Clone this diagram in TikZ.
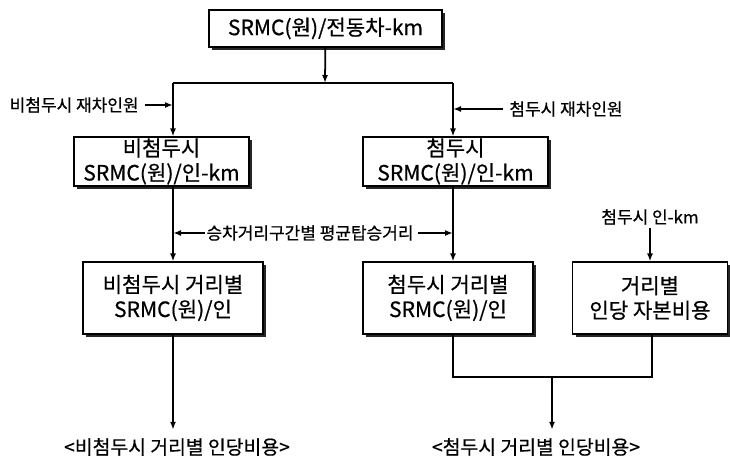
\documentclass[tikz,border=0pt]{standalone}
\usepackage{fontspec}
\setmainfont{Noto Sans CJK KR}[FakeBold=0.6]
\usetikzlibrary{arrows.meta, positioning, shadows}

\begin{document}
\begin{tikzpicture}[x=0.03cm, y=-0.03cm,
  box/.style={draw, line width=0.9pt, fill=white, align=center, inner sep=0pt,
    font=\fontsize{18}{21}\selectfont,
    drop shadow={shadow xshift=0.09cm, shadow yshift=-0.09cm, fill=black!85, opacity=1}},
  lbl/.style={font=\fontsize{14.5}{16}\selectfont, inner sep=1pt},
  res/.style={font=\fontsize{16.5}{18}\selectfont, inner sep=1pt},
  flow/.style={line width=1.5pt, -{Latex[length=0.24cm, width=0.18cm]}},
  link/.style={line width=1.2pt}]
  \useasboundingbox (0,0) rectangle (730,460);

  % top box
  \node[box, minimum width=6.99cm, minimum height=1.11cm] (top) at (325.5,28.5) {SRMC(원)/전동차-km};

  % split into off-peak / peak
  \coordinate (split) at (325,83);
  \coordinate (splitL) at (173,83);
  \coordinate (splitR) at (453,83);

  \node[lbl, anchor=east] (offin) at (140,105) {비첨두시 재차인원};
  \node[lbl, anchor=west] (pkin) at (508,109) {첨두시 재차인원};

  \node[box, minimum width=5.25cm, minimum height=1.47cm] (offkm) at (161.5,161.5) {비첨두시\\SRMC(원)/인-km};
  \node[box, minimum width=5.55cm, minimum height=1.47cm] (pkkm) at (455.5,161.5) {첨두시\\SRMC(원)/인-km};

  % distance level
  \node[lbl] (dist) at (310,233) {승차거리구간별 평균탑승거리};
  \node[lbl] (pkin2) at (650,217) {첨두시 인-km};

  \node[box, minimum width=5.4cm, minimum height=2.16cm] (offdist) at (173,298) {비첨두시 거리별\\SRMC(원)/인};
  \node[box, minimum width=5.1cm, minimum height=2.16cm] (pkdist) at (448,298) {첨두시 거리별\\SRMC(원)/인};
  \node[box, minimum width=4.65cm, minimum height=2.16cm] (capcost) at (650,298) {거리별\\인당 자본비용};

  % results
  \coordinate (joinL) at (453,377);
  \coordinate (join) at (552,377);
  \coordinate (joinR) at (652,377);
  \node[res] (offres) at (177,447) {<비첨두시 거리별 인당비용>};
  \node[res] (pkres) at (536,447) {<첨두시 거리별 인당비용>};

  % connectors
  \draw[flow] (top) -- (split);
  \draw[link] (splitL) -- (splitR);
  \draw[flow] (splitL) -- (splitL |- offkm.north);
  \draw[flow] (splitR) -- (splitR |- pkkm.north);
  \draw[flow, shorten <=4pt] (offin.east) -- (offin.east -| splitL);
  \draw[flow, shorten <=4pt] (pkin.west) -- (pkin.west -| splitR);

  \draw[flow] (offdist.north |- offkm.south) -- (offdist.north);
  \draw[flow] (splitR |- pkkm.south) -- (splitR |- pkdist.north);
  \draw[flow] (dist.west) -- (dist.west -| offdist.north);
  \draw[flow, shorten <=3pt] (dist.east) -- (dist.east -| splitR);
  \draw[flow, shorten <=2pt] (pkin2) -- (capcost);

  \draw[link] (joinL |- pkdist.south) -- (joinL) -- (joinR) -- (joinR |- capcost.south);
  \draw[flow, shorten >=6pt] (offdist) -- (offdist |- offres.north);
  \draw[flow, shorten >=6pt] (join) -- (join |- pkres.north);
\end{tikzpicture}
\end{document}
